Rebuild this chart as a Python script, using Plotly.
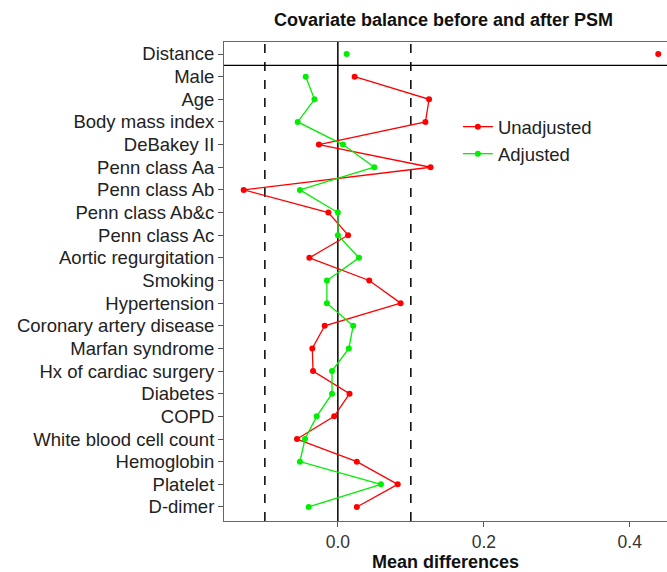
import plotly.graph_objects as go

categories = ["Distance", "Male", "Age", "Body mass index", "DeBakey II", "Penn class Aa",
              "Penn class Ab", "Penn class Ab&c", "Penn class Ac", "Aortic regurgitation",
              "Smoking", "Hypertension", "Coronary artery disease", "Marfan syndrome",
              "Hx of cardiac surgery", "Diabetes", "COPD", "White blood cell count",
              "Hemoglobin", "Platelet", "D-dimer"]
unadjusted = [0.439, 0.023, 0.125, 0.120, -0.026, 0.127, -0.129, -0.013, 0.014, -0.039,
              0.043, 0.086, -0.018, -0.035, -0.034, 0.016, -0.005, -0.056, 0.026, 0.082, 0.026]
adjusted = [0.012, -0.044, -0.032, -0.055, 0.007, 0.050, -0.052, 0.000, 0.000, 0.029,
            -0.015, -0.015, 0.021, 0.015, -0.008, -0.008, -0.029, -0.045, -0.052, 0.059, -0.040]
x_ticks = [0.0, 0.2, 0.4]
x_tick_labels = ["0.0", "0.2", "0.4"]
threshold = 0.1

ypos = list(range(len(categories)))
RED = "#ff0000"
GREEN = "#00ee00"
FONT = "Liberation Sans, Arial, sans-serif"

fig = go.Figure()
# Distance points (not connected)
fig.add_trace(go.Scatter(x=[unadjusted[0]], y=[ypos[0]], mode="markers", cliponaxis=False,
                         marker=dict(color=RED, size=6), showlegend=False))
fig.add_trace(go.Scatter(x=[adjusted[0]], y=[ypos[0]], mode="markers",
                         marker=dict(color=GREEN, size=6), showlegend=False))
# Connected covariates
fig.add_trace(go.Scatter(x=unadjusted[1:], y=ypos[1:], mode="lines+markers", name="Unadjusted",
                         line=dict(color=RED, width=1.3), marker=dict(color=RED, size=6)))
fig.add_trace(go.Scatter(x=adjusted[1:], y=ypos[1:], mode="lines+markers", name="Adjusted",
                         line=dict(color=GREEN, width=1.3), marker=dict(color=GREEN, size=6)))

shapes = [
    dict(type="line", xref="x", yref="paper", x0=-threshold, x1=-threshold, y0=0, y1=1,
         line=dict(color="black", width=1.5, dash="dash"), layer="below"),
    dict(type="line", xref="x", yref="paper", x0=threshold, x1=threshold, y0=0, y1=1,
         line=dict(color="black", width=1.5, dash="dash"), layer="below"),
    dict(type="line", xref="x", yref="paper", x0=0, x1=0, y0=0, y1=1,
         line=dict(color="black", width=1.5), layer="below"),
    dict(type="line", xref="paper", yref="y", x0=0, x1=1, y0=0.5, y1=0.5,
         line=dict(color="black", width=1.2)),
]

fig.update_layout(
    width=667, height=572,
    margin=dict(l=224, r=0, t=42, b=51),
    plot_bgcolor="white", paper_bgcolor="white",
    font=dict(family=FONT, color="#222222", size=18),
    title=dict(text="<b>Covariate balance before and after PSM</b>", x=0.665, xanchor="center",
               y=0.965, yanchor="middle", font=dict(size=18, color="#111111")),
    shapes=shapes,
    showlegend=True,
    legend=dict(x=0.528, y=0.862, xanchor="left", yanchor="top", bgcolor="rgba(0,0,0,0)",
                font=dict(size=18.5, color="#222222"), tracegroupgap=2),
    xaxis=dict(range=[-0.156, 0.451], tickvals=x_ticks, ticktext=x_tick_labels,
               showgrid=False, zeroline=False, ticks="outside", ticklen=5, tickcolor="#555555",
               showline=True, linecolor="#666666", linewidth=1, mirror=True,
               title=dict(text="<b>Mean differences</b>", font=dict(size=18, color="#111111"),
                          standoff=2),
               tickfont=dict(size=17.5, color="#333333")),
    yaxis=dict(range=[20.62, -0.53], tickvals=ypos, ticktext=categories,
               showgrid=False, zeroline=False, ticks="outside", ticklen=5, tickcolor="#555555",
               showline=True, linecolor="#666666", linewidth=1, mirror=True,
               tickfont=dict(size=18.5, color="#222222")),
)

fig.write_html("out.html", config={"displayModeBar": False},
               post_script="document.body.style.margin='0';document.body.style.overflow='hidden';")
